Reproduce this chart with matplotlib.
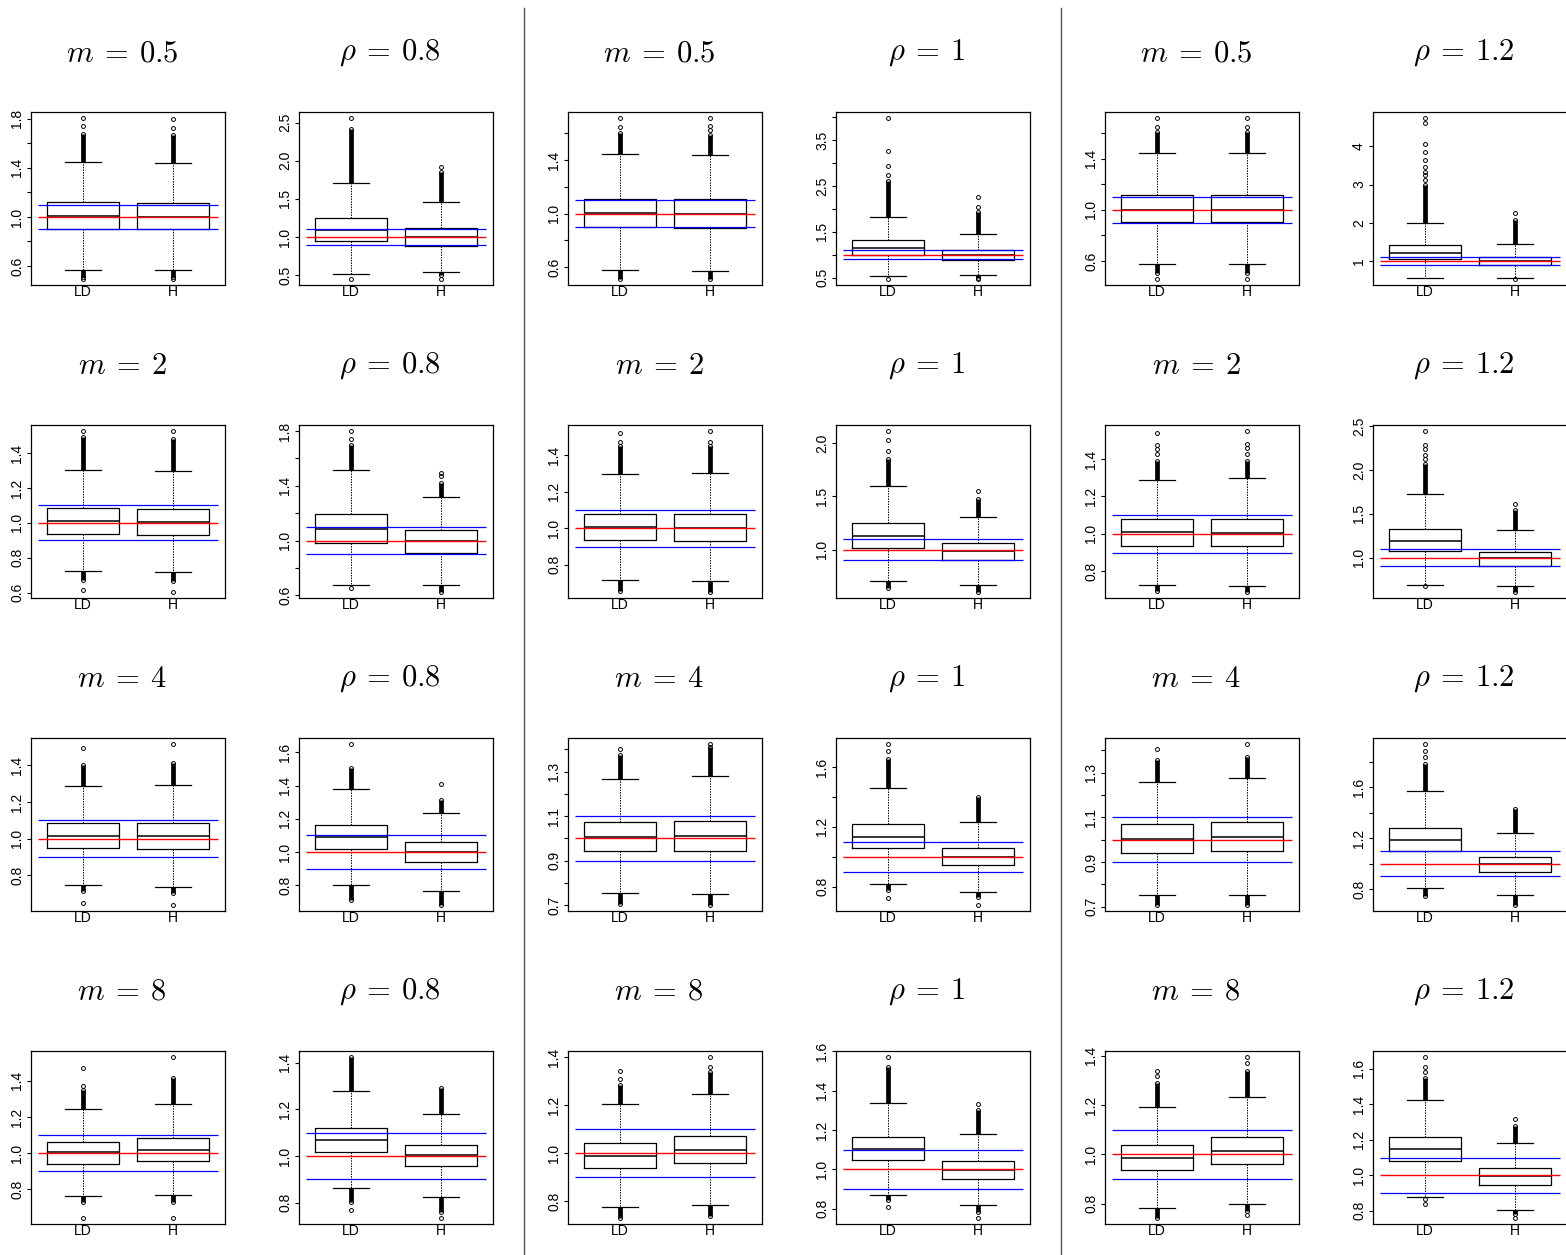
import matplotlib
matplotlib.use("Agg")
import matplotlib.pyplot as plt
import numpy as np

plt.rcParams["mathtext.fontset"] = "cm"
plt.rcParams["font.family"] = ["Liberation Sans", "DejaVu Sans"]

# panel titles
m_values = ["0.5", "2", "4", "8"]
rho_values = ["0.8", "1", "1.2"]
groups = ["LD", "H"]

# box statistics, [row][col] -> (LD, H); each: q1, med, q3, whisker low, whisker high
box_stats = [
    [((0.898, 1.005, 1.118, 0.571, 1.448), (0.898, 1.000, 1.113, 0.566, 1.442)),
     ((0.948, 1.091, 1.255, 0.515, 1.710), (0.883, 1.004, 1.121, 0.545, 1.463)),
     ((0.900, 1.005, 1.113, 0.575, 1.445), (0.895, 1.000, 1.108, 0.568, 1.440)),
     ((1.000, 1.144, 1.325, 0.530, 1.816), (0.884, 0.990, 1.108, 0.552, 1.448)),
     ((0.901, 1.000, 1.112, 0.580, 1.441), (0.901, 1.000, 1.112, 0.577, 1.441)),
     ((1.052, 1.200, 1.409, 0.565, 1.983), (0.887, 1.000, 1.104, 0.565, 1.452))],
    [((0.937, 1.010, 1.084, 0.722, 1.304), (0.932, 1.004, 1.078, 0.719, 1.300)),
     ((0.983, 1.084, 1.194, 0.676, 1.514), (0.911, 0.995, 1.077, 0.673, 1.319)),
     ((0.935, 1.007, 1.080, 0.715, 1.300), (0.931, 1.002, 1.078, 0.711, 1.302)),
     ((1.019, 1.130, 1.252, 0.702, 1.593), (0.907, 0.984, 1.065, 0.668, 1.307)),
     ((0.936, 1.009, 1.078, 0.726, 1.290), (0.935, 1.007, 1.078, 0.722, 1.296)),
     ((1.071, 1.195, 1.331, 0.684, 1.722), (0.906, 1.000, 1.068, 0.677, 1.316))],
    [((0.948, 1.014, 1.083, 0.748, 1.285), (0.946, 1.013, 1.083, 0.737, 1.292)),
     ((1.018, 1.090, 1.163, 0.800, 1.380), (0.942, 1.000, 1.058, 0.769, 1.233)),
     ((0.942, 1.005, 1.072, 0.752, 1.266), (0.945, 1.012, 1.079, 0.748, 1.278)),
     ((1.057, 1.135, 1.216, 0.816, 1.459), (0.941, 0.999, 1.057, 0.764, 1.234)),
     ((0.942, 1.005, 1.069, 0.752, 1.258), (0.948, 1.014, 1.078, 0.752, 1.277)),
     ((1.097, 1.182, 1.282, 0.811, 1.566), (0.937, 0.995, 1.055, 0.753, 1.242))],
    [((0.943, 1.006, 1.061, 0.765, 1.242), (0.956, 1.020, 1.083, 0.769, 1.273)),
     ((1.017, 1.068, 1.122, 0.861, 1.281), (0.959, 1.004, 1.047, 0.826, 1.182)),
     ((0.938, 0.989, 1.043, 0.774, 1.206), (0.957, 1.014, 1.073, 0.784, 1.248)),
     ((1.045, 1.101, 1.163, 0.871, 1.339), (0.953, 0.998, 1.042, 0.817, 1.178)),
     ((0.935, 0.984, 1.039, 0.783, 1.191), (0.961, 1.012, 1.071, 0.798, 1.234)),
     ((1.080, 1.147, 1.216, 0.879, 1.421), (0.948, 0.996, 1.043, 0.804, 1.182))],
]

# ends of the dense runs of outliers (above, below); None = no dense run
dense_ends = [
    [((1.676, 0.510), (1.668, 0.510)), ((2.420, None), (1.850, 0.506)),
     ((1.600, 0.513), (1.588, 0.513)), ((2.600, None), (1.940, 0.500)),
     ((1.609, 0.507), (1.609, 0.507)), ((2.990, None), (2.080, None))],
    [((1.492, 0.675), (1.483, 0.669)), ((1.696, None), (1.420, 0.628)),
     ((1.453, 0.658), (1.453, 0.653)), ((1.854, 0.637), (1.475, 0.606)),
     ((1.390, 0.697), (1.391, 0.692)), ((2.070, None), (1.545, 0.613))],
    [((1.400, 0.715), (1.414, 0.706)), ((1.506, 0.715), (1.313, 0.685)),
     ((1.373, 0.705), (1.410, 0.702)), ((1.656, 0.780), (1.400, 0.728)),
     ((1.356, 0.709), (1.371, 0.709)), ((1.784, 0.745), (1.429, 0.679))],
    [((1.350, 0.732), (1.415, 0.732)), ((1.423, 0.801), (1.291, 0.759)),
     ((1.285, 0.731), (1.341, 0.738)), ((1.521, 0.844), (1.303, 0.782)),
     ((1.288, 0.743), (1.338, 0.770)), ((1.546, None), (1.276, 0.782))],
]

# isolated outliers
single_outliers = [
    [([1.743, 1.804, 0.497], [1.724, 1.796, 0.497]),
     ([2.554, 0.455], [1.913, 0.455]),
     ([1.650, 1.713], [1.625, 1.655, 1.713]),
     ([2.73, 2.93, 3.27, 3.97, 0.48], [2.03, 2.26, 0.48]),
     ([1.648, 1.713, 0.463], [1.648, 1.713, 0.463]),
     ([3.12, 3.25, 3.34, 3.47, 3.64, 3.86, 4.06, 4.62, 4.73], [2.25, 0.54])],
    [([1.525, 0.614], [1.525, 0.606]),
     ([1.744, 1.797, 0.657], [1.468, 1.492]),
     ([1.475, 1.522], [1.475, 1.531]),
     ([1.922, 2.025, 2.109], [1.553]),
     ([1.427, 1.453, 1.476, 1.538], [1.427, 1.457, 1.480, 1.547]),
     ([2.128, 2.173, 2.240, 2.286, 2.440, 0.673], [1.609])],
    [([1.494, 0.649], [1.514, 0.641]),
     ([1.647], [1.412]),
     ([1.400], [1.422]),
     ([1.705, 1.752, 0.724], [0.679]),
     ([1.405], [1.427]),
     ([1.837, 1.884, 1.935], [])],
    [([1.372, 1.470, 0.644], [1.530, 0.644]),
     ([0.767], [0.736]),
     ([1.310, 1.343], [1.361, 1.400]),
     ([1.568, 0.807], [1.331, 0.755]),
     ([1.319, 1.338], [1.369, 1.393, 0.752]),
     ([1.583, 1.611, 1.663, 0.866, 0.838], [1.317, 0.762])],
]

# y tick spacing and which ticks carry a label
tick_step = [
    [0.2, 0.5, 0.2, 0.5, 0.2, 1.0],
    [0.2, 0.2, 0.2, 0.5, 0.2, 0.5],
    [0.2, 0.2, 0.1, 0.2, 0.1, 0.2],
    [0.2, 0.2, 0.2, 0.2, 0.2, 0.2],
]
label_every = [
    [2, 1, 2, 2, 2, 1],
    [1, 2, 1, 1, 1, 1],
    [1, 1, 2, 2, 2, 2],
    [1, 1, 1, 1, 1, 1],
]
ref_lines = [0.9, 1.0, 1.1]

W, H = 1566, 1255
col_left = [31, 299, 568, 836, 1105, 1373]
row_top = [112, 425, 738, 1051]
aw, ah = 194, 173

fig = plt.figure(figsize=(W / 100, H / 100), dpi=100)

for r in range(4):
    for c in range(6):
        ax = fig.add_axes([col_left[c] / W, 1 - (row_top[r] + ah) / H, aw / W, ah / H])
        stats = []
        all_vals = []
        for k in range(2):
            q1, med, q3, wlo, whi = box_stats[r][c][k]
            outs = single_outliers[r][c][k]
            stats.append(dict(q1=q1, med=med, q3=q3, whislo=wlo, whishi=whi,
                              fliers=np.array(outs), label=groups[k]))
            all_vals += [wlo, whi] + list(outs)
            dhi, dlo = dense_ends[r][c][k]
            x = k + 1
            ax.vlines(x, whi, dhi, color="black", lw=3.4, zorder=2)
            ax.plot([x], [dhi], "o", mfc="none", mec="black", ms=2.8, mew=0.7, zorder=2)
            all_vals.append(dhi)
            if dlo is not None:
                ax.vlines(x, dlo, wlo, color="black", lw=3.4, zorder=2)
                ax.plot([x], [dlo], "o", mfc="none", mec="black", ms=2.8, mew=0.7, zorder=2)
                all_vals.append(dlo)

        ax.bxp(stats, positions=[1, 2], widths=0.8, capwidths=0.4, showfliers=True,
               boxprops=dict(color="black", lw=0.9),
               medianprops=dict(color="black", lw=1.1),
               whiskerprops=dict(color="black", lw=0.7, ls=(0, (1.5, 1.2))),
               capprops=dict(color="black", lw=0.9),
               flierprops=dict(marker="o", mfc="none", mec="black", ms=2.8, mew=0.7))

        ax.hlines([ref_lines[0], ref_lines[2]], 0.5, 2.5, color="#0000ff", lw=0.9, zorder=4)
        ax.hlines(ref_lines[1], 0.5, 2.5, color="#ff0000", lw=1.0, zorder=4)

        lo, hi = min(all_vals), max(all_vals)
        pad = 0.04 * (hi - lo)
        ax.set_ylim(lo - pad, hi + pad)
        ax.set_xlim(0.42, 2.58)

        step = tick_step[r][c]
        start = np.ceil((lo - pad) / step - 1e-9) * step
        ticks = np.arange(start, hi + pad + 1e-9, step)
        every = label_every[r][c]
        fmt = "%d" if step >= 1 else "%.1f"
        labels = [fmt % t if i % every == 0 else "" for i, t in enumerate(ticks)]
        ax.set_yticks(ticks)
        ax.set_yticklabels(labels)
        ax.tick_params(axis="y", direction="out", length=3, width=0.8, labelsize=10, pad=2,
                       labelrotation=90)
        for lab in ax.get_yticklabels():
            lab.set_va("center")
        ax.tick_params(axis="x", length=0, labelsize=10, pad=0)
        for sp in ax.spines.values():
            sp.set_linewidth(0.9)

        if c % 2 == 0:
            title = r"$m\:=\:%s$" % m_values[r]
        else:
            title = r"$\rho\:=\:%s$" % rho_values[c // 2]
        ax.text(0.469, 1 + 59 / ah, title, transform=ax.transAxes, ha="center", va="center",
                fontsize=22)

for xs in [524, 1061]:
    fig.add_artist(plt.Line2D([xs / W, xs / W], [0, 1 - 8 / H], color="#555555", lw=1.0))

fig.savefig("out.png", dpi=100)
